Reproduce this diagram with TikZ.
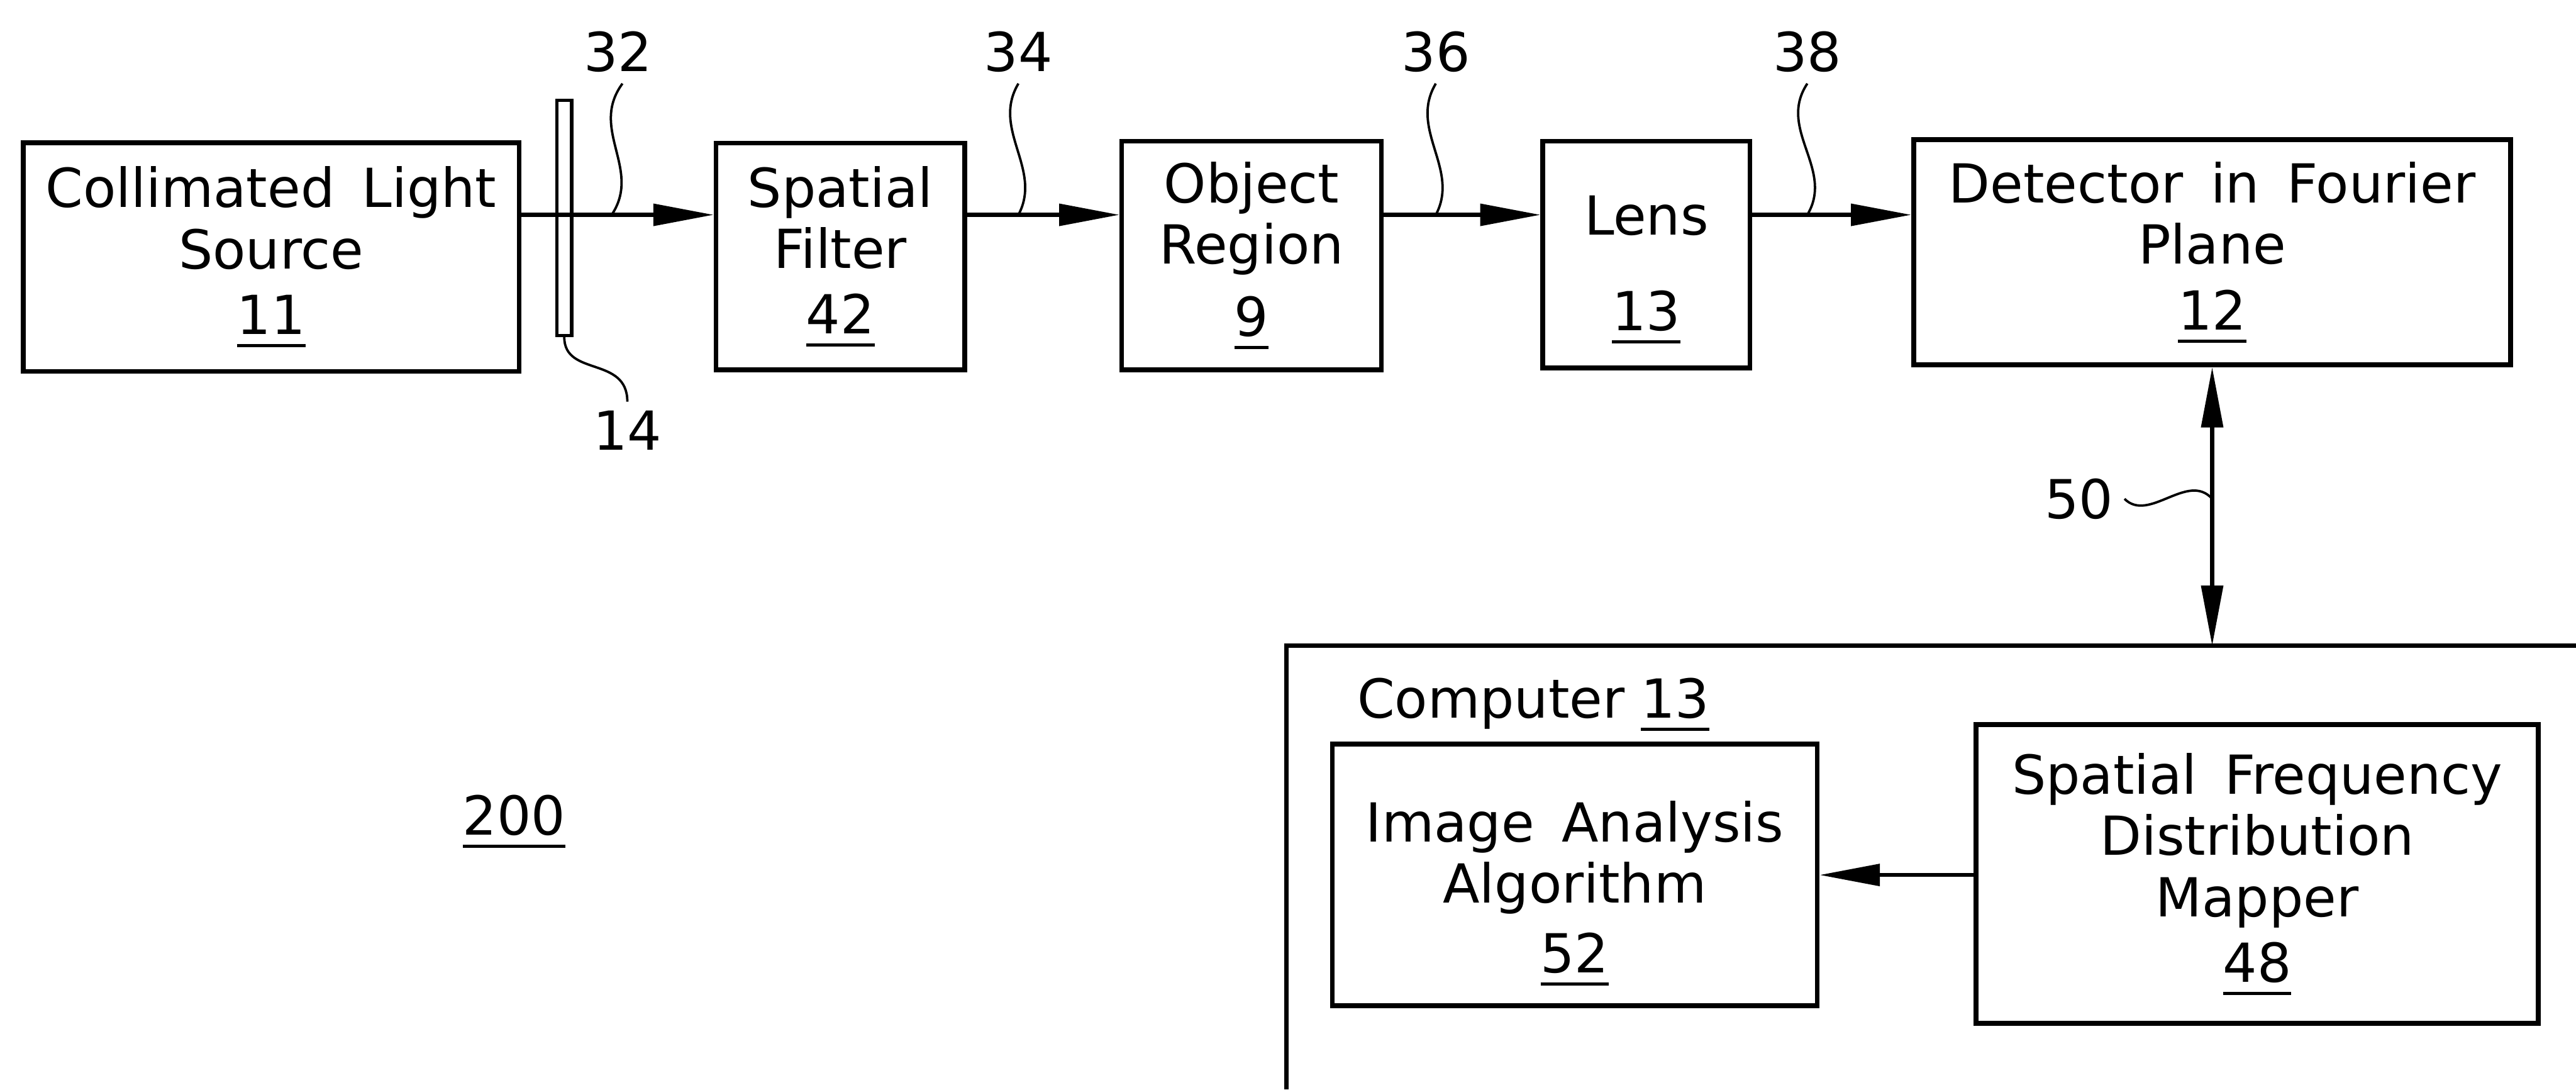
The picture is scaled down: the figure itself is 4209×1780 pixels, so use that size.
\documentclass[tikz,border=0pt]{standalone}
\usepackage{fontspec}
\setmainfont{DejaVu Sans}[WordSpace=1.6]
\usetikzlibrary{arrows.meta}
\newcommand\ulnum[1]{\leavevmode\setbox0=\hbox{#1}\rlap{\rule[-6pt]{\wd0}{1.5pt}}\box0}
\begin{document}
\begin{tikzpicture}[x=0.01cm,y=-0.01cm,
  every node/.style={font=\fontsize{25}{28.5}\selectfont},
  box/.style={draw, line width=2.2pt, inner sep=0pt, align=center},
  lbl/.style={inner sep=0pt},
  arr/.style={line width=1.8pt, -{Triangle[length=28pt,width=10pt]}},
  darr/.style={line width=1.8pt, {Triangle[length=28pt,width=10pt]}-{Triangle[length=28pt,width=10pt]}},
  lead/.style={line width=1.1pt}]
\useasboundingbox (0,0) rectangle (4209,1780);

% top row boxes
\node[box, minimum width=8.10cm, minimum height=3.73cm] (b11) at (443,420)
  {Collimated Light\\Source\\[2pt]\ulnum{11}};
\node[box, minimum width=4.06cm, minimum height=3.70cm] (sf42) at (1373,419)
  {Spatial\\Filter\\[2pt]\ulnum{42}};
\node[box, minimum width=4.24cm, minimum height=3.73cm] (obj9) at (2045,417.5)
  {Object\\Region\\[5pt]\ulnum{9}};
\node[box, minimum width=3.38cm, minimum height=3.70cm] (lens13) at (2690,416)
  {\rule{0pt}{32pt}Lens\\[16pt]\ulnum{13}};
\node[box, minimum width=9.75cm, minimum height=3.68cm] (det12) at (3614.5,412)
  {Detector in Fourier\\Plane\\[2pt]\ulnum{12}};

% plate 14
\node[draw, line width=1.6pt, inner sep=0pt, minimum width=0.24cm, minimum height=3.84cm] (plate) at (922,356) {};

% computer region
\draw[line width=2.2pt] (4209,1055) -| (2102,1780);
\coordinate (comptop) at (3614.5,1055);
\node[lbl, anchor=base west] (comp) at (2217,1173) {Computer\hspace{0.3em}\ulnum{13}};
\node[box, minimum width=7.92cm, minimum height=4.27cm] (ia52) at (2573,1429.5)
  {\rule{0pt}{36pt}Image Analysis\\Algorithm\\[4pt]\ulnum{52}};
\node[box, minimum width=9.18cm, minimum height=4.88cm] (sf48) at (3688,1428)
  {Spatial Frequency\\Distribution\\Mapper\\[2pt]\ulnum{48}};

\node[lbl] (n200) at (840,1342) {\ulnum{200}};

% beam arrows
\coordinate (row) at (0,351);
\draw[arr] (b11.east |- row) -- (sf42.west |- row);
\draw[arr] (sf42.east |- row) -- (obj9.west |- row);
\draw[arr] (obj9.east |- row) -- (lens13.west |- row);
\draw[arr] (lens13.east |- row) -- (det12.west |- row);
\draw[darr] (det12.south) -- (det12.south |- comptop);
\draw[arr] (sf48.west |- ia52) -- (ia52.east);

% reference labels
\node[lbl] (n32) at (1010,85) {32};
\node[lbl] (n34) at (1664,85) {34};
\node[lbl] (n36) at (2346,85) {36};
\node[lbl] (n38) at (2953,85) {38};
\node[lbl] (n14) at (1025,703) {14};
\node[lbl] (n50) at (3397,815) {50};

\draw[lead] ([xshift=2pt,yshift=-5pt]n32.south) .. controls +(-55,75) and +(50,-75) .. ([xshift=-3pt]n32 |- row);
\draw[lead] ([yshift=-5pt]n34.south) .. controls +(-45,75) and +(40,-75) .. (n34 |- row);
\draw[lead] ([yshift=-5pt]n36.south) .. controls +(-45,75) and +(40,-75) .. (n36 |- row);
\draw[lead] ([yshift=-5pt]n38.south) .. controls +(-50,75) and +(45,-75) .. (n38 |- row);
\draw[lead] (plate.south) .. controls +(0,65) and +(0,-75) .. ([yshift=4pt]n14.north);
\draw[lead] ([xshift=5pt]n50.east) .. controls +(40,40) and +(-40,-45) .. (det12.south |- n50);
\end{tikzpicture}
\end{document}
